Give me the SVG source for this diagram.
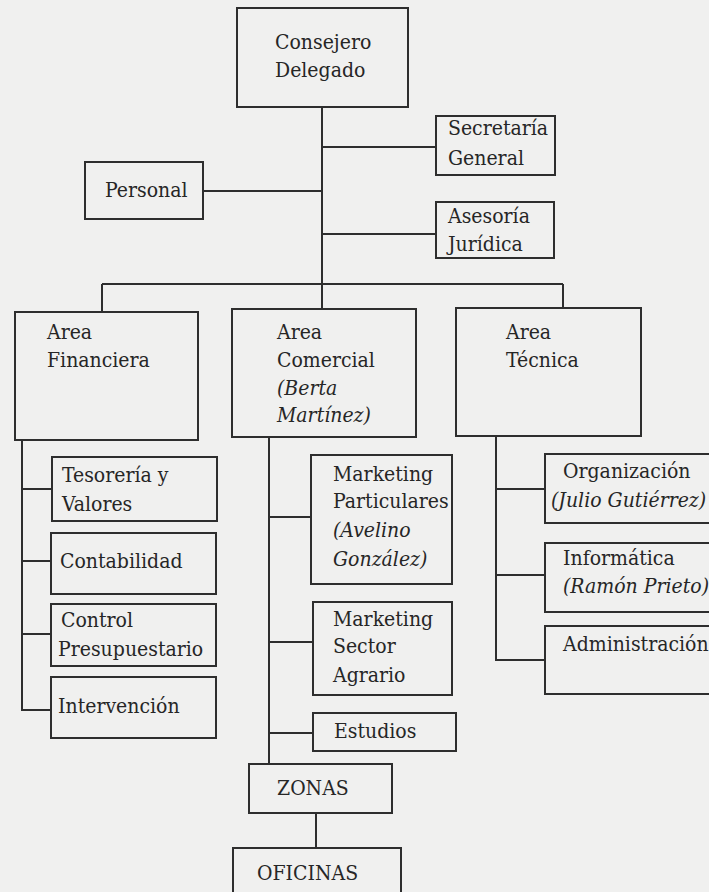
<svg xmlns="http://www.w3.org/2000/svg" width="709" height="892" viewBox="0 0 709 892">
<style>
.box{fill:none;stroke:#2e2e2e;stroke-width:2}
.ln{fill:none;stroke:#2e2e2e;stroke-width:2}
.it{font-style:italic}
.t{font-family:'DejaVu Serif Condensed','DejaVu Serif',serif}
</style>
<rect width="709" height="892" fill="#f0f0ef"/>
<g id="connectors">
<path class="ln" d="M322,107 V284"/>
<path class="ln" d="M322,147 H436"/>
<path class="ln" d="M203,191 H322"/>
<path class="ln" d="M322,234 H436"/>
<path class="ln" d="M102,284 H563"/>
<path class="ln" d="M102,284 V312"/>
<path class="ln" d="M322,284 V309"/>
<path class="ln" d="M563,284 V308"/>
<path class="ln" d="M22,440 V710 H51"/>
<path class="ln" d="M22,489 H52"/>
<path class="ln" d="M22,561 H51"/>
<path class="ln" d="M22,634 H51"/>
<path class="ln" d="M269,437 V764"/>
<path class="ln" d="M269,517 H311"/>
<path class="ln" d="M269,642 H313"/>
<path class="ln" d="M269,733 H313"/>
<path class="ln" d="M496,436 V660 H545"/>
<path class="ln" d="M496,489 H545"/>
<path class="ln" d="M496,575 H545"/>
<path class="ln" d="M316,813 V848"/>
</g>
<g class="t" font-size="21" fill="#262626">
<g id="consejero"><rect class="box" x="237" y="8" width="171" height="99"/><text x="275" y="49">Consejero</text><text x="275" y="77">Delegado</text></g>
<g id="secretaria"><rect class="box" x="436" y="116" width="119" height="59"/><text x="448" y="135">Secretaría</text><text x="448" y="165">General</text></g>
<g id="personal"><rect class="box" x="85" y="162" width="118" height="57"/><text x="105" y="197">Personal</text></g>
<g id="asesoria"><rect class="box" x="436" y="202" width="118" height="56"/><text x="448" y="223">Asesoría</text><text x="448" y="251">Jurídica</text></g>
<g id="area-financiera"><rect class="box" x="15" y="312" width="183" height="128"/><text x="47" y="339">Area</text><text x="47" y="367">Financiera</text></g>
<g id="area-comercial"><rect class="box" x="232" y="309" width="184" height="128"/><text x="277" y="339">Area</text><text x="277" y="367">Comercial</text><text class="it" x="277" y="395">(Berta</text><text class="it" x="277" y="422">Martínez)</text></g>
<g id="area-tecnica"><rect class="box" x="456" y="308" width="185" height="128"/><text x="506" y="339">Area</text><text x="506" y="367">Técnica</text></g>
<g id="tesoreria"><rect class="box" x="52" y="457" width="165" height="64"/><text x="62" y="482">Tesorería y</text><text x="62" y="511">Valores</text></g>
<g id="contabilidad"><rect class="box" x="51" y="533" width="165" height="61"/><text x="60" y="568">Contabilidad</text></g>
<g id="control"><rect class="box" x="51" y="604" width="165" height="62"/><text x="61" y="627">Control</text><text x="58" y="656">Presupuestario</text></g>
<g id="intervencion"><rect class="box" x="51" y="677" width="165" height="61"/><text x="58" y="713">Intervención</text></g>
<g id="marketing-particulares"><rect class="box" x="311" y="455" width="141" height="129"/><text x="333" y="481">Marketing</text><text x="333" y="508">Particulares</text><text class="it" x="333" y="537">(Avelino</text><text class="it" x="333" y="566">González)</text></g>
<g id="marketing-agrario"><rect class="box" x="313" y="602" width="139" height="93"/><text x="333" y="626">Marketing</text><text x="333" y="653">Sector</text><text x="333" y="682">Agrario</text></g>
<g id="estudios"><rect class="box" x="313" y="713" width="143" height="38"/><text x="334" y="738">Estudios</text></g>
<g id="zonas"><rect class="box" x="249" y="764" width="143" height="49"/><text x="277" y="795">ZONAS</text></g>
<g id="oficinas"><rect class="box" x="233" y="848" width="168" height="60"/><text x="257" y="880">OFICINAS</text></g>
<g id="organizacion"><rect class="box" x="545" y="454" width="175" height="69"/><text x="563" y="478">Organización</text><text class="it" x="551" y="507">(Julio Gutiérrez)</text></g>
<g id="informatica"><rect class="box" x="545" y="543" width="175" height="69"/><text x="563" y="565">Informática</text><text class="it" x="563" y="593">(Ramón Prieto)</text></g>
<g id="administracion"><rect class="box" x="545" y="626" width="175" height="68"/><text x="563" y="651">Administración</text></g>
</g>
</svg>
